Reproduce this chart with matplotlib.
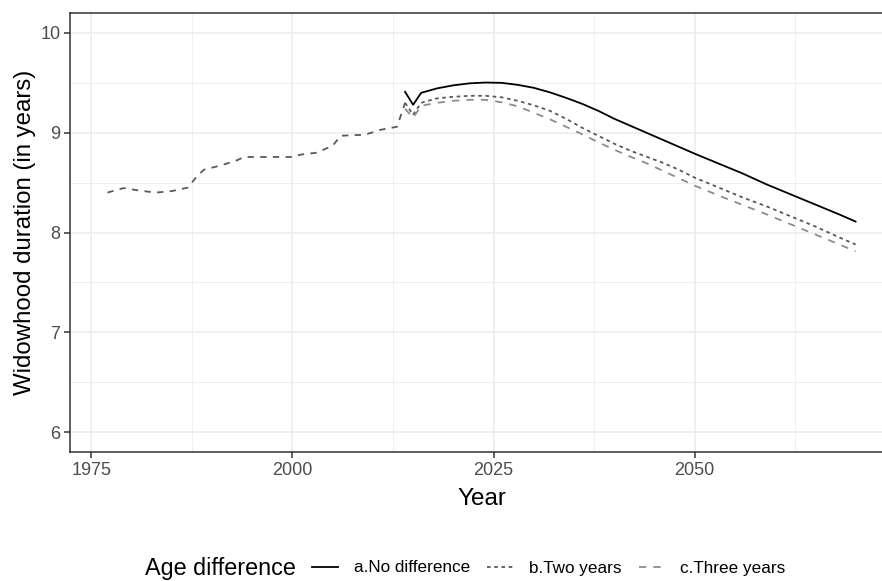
import matplotlib
matplotlib.use("Agg")
from matplotlib import pyplot as plt
from matplotlib.lines import Line2D

plt.rcParams['font.family'] = ['Liberation Sans', 'DejaVu Sans']

# observed widowhood duration (before projections)
hist_years = [1977, 1979, 1981, 1983, 1985, 1987, 1988, 1989, 1991, 1993, 1994,
              2000, 2001, 2003, 2005, 2006, 2009, 2011, 2013]
hist_vals = [8.40, 8.445, 8.42, 8.40, 8.415, 8.45, 8.55, 8.63, 8.67, 8.72, 8.757,
             8.757, 8.78, 8.80, 8.87, 8.97, 8.98, 9.03, 9.06]

# projections by age difference
proj_years = [2014, 2015, 2016, 2018, 2020, 2022, 2024, 2026, 2028, 2030, 2032,
              2034, 2036, 2038, 2040, 2042, 2044, 2046, 2048, 2050, 2053, 2056,
              2059, 2062, 2065, 2068, 2070]
no_diff = [9.41, 9.28, 9.40, 9.445, 9.475, 9.495, 9.503, 9.50, 9.48, 9.45, 9.405,
           9.35, 9.29, 9.22, 9.14, 9.07, 9.00, 8.93, 8.86, 8.79, 8.69, 8.59,
           8.48, 8.38, 8.28, 8.18, 8.11]
two_years = [9.30, 9.18, 9.30, 9.345, 9.36, 9.37, 9.37, 9.355, 9.32, 9.275, 9.22,
             9.14, 9.05, 8.97, 8.89, 8.82, 8.76, 8.70, 8.63, 8.55, 8.45, 8.35,
             8.26, 8.16, 8.06, 7.95, 7.88]
three_years = [9.24, 9.15, 9.27, 9.30, 9.32, 9.33, 9.33, 9.305, 9.265, 9.20, 9.135,
               9.06, 8.985, 8.905, 8.83, 8.76, 8.695, 8.62, 8.545, 8.47, 8.37, 8.275,
               8.18, 8.08, 7.98, 7.88, 7.81]

labels = ["a.No difference", "b.Two years", "c.Three years"]
colors = ["#000000", "#595959", "#8c8c8c"]
dash_styles = [None, (2, 2), (4, 4)]
lw = 1.3

fig = plt.figure(figsize=(8.82, 5.81), dpi=100)
ax = fig.add_axes([70 / 882, 129 / 581, 823 / 882, 439 / 581])

# historical part, drawn in the two-years colour
ax.plot(hist_years + proj_years[:1], hist_vals + two_years[:1], color=colors[1],
        lw=lw, dashes=(3.5, 3.5))

for vals, col, ds in zip([no_diff, two_years, three_years], colors, dash_styles):
    line, = ax.plot(proj_years, vals, color=col, lw=lw)
    if ds is not None:
        line.set_dashes(ds)

ax.set_xlim(1972.35, 2074.65)
ax.set_ylim(5.8, 10.2)
ax.set_xticks([1975, 2000, 2025, 2050])
ax.set_yticks([6, 7, 8, 9, 10])
ax.set_xticks([1987.5, 2012.5, 2037.5, 2062.5], minor=True)
ax.set_yticks([6.5, 7.5, 8.5, 9.5], minor=True)
ax.grid(which='major', color='#ebebeb', lw=1.1)
ax.grid(which='minor', color='#ebebeb', lw=0.55)
ax.set_axisbelow(True)
for s in ax.spines.values():
    s.set_color('#333333')
    s.set_linewidth(1.1)
ax.tick_params(which='major', color='#333333', width=1.1, length=4,
               labelsize=13, labelcolor='#4d4d4d', pad=3)
ax.tick_params(which='minor', length=0)

ax.set_xlabel("Year", fontsize=17.5, labelpad=7)
ax.set_ylabel("Widowhood duration (in years)", fontsize=17.3, labelpad=3)

# legend at the bottom, title on the left of the keys
fig.text(145 / 882, 1 - 568 / 581, "Age difference", fontsize=16.8,
         ha='left', va='center')
handles = [Line2D([], [], color=colors[0], lw=lw),
           Line2D([], [], color=colors[1], lw=lw, dashes=(2, 2)),
           Line2D([], [], color=colors[2], lw=lw, dashes=(4, 4))]
fig.legend(handles, labels, loc='center left',
           bbox_to_anchor=(312 / 882, 1 - 568 / 581), ncol=3, frameon=False,
           fontsize=12.3, handlelength=1.55, handletextpad=0.9,
           columnspacing=1.0, borderpad=0, borderaxespad=0)

fig.savefig("out.png", dpi=100)
